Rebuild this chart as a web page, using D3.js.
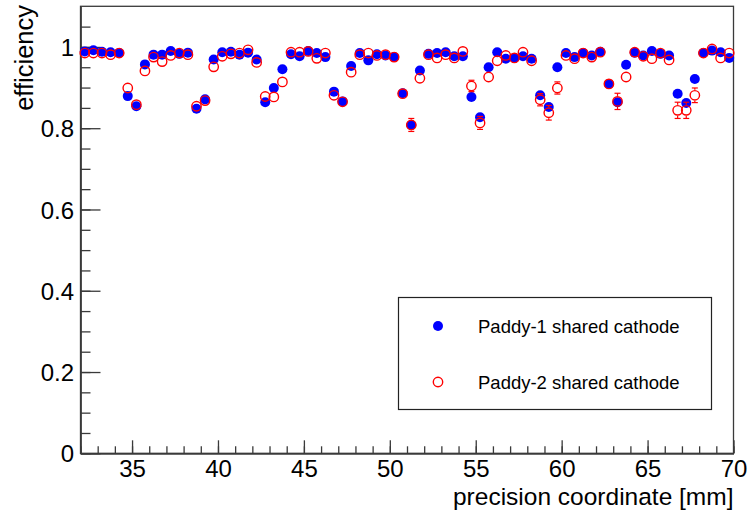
<!DOCTYPE html>
<html>
<head>
<meta charset="utf-8">
<script src="https://cdn.jsdelivr.net/npm/d3@7"></script>
<style>
  html, body { margin: 0; padding: 0; background: #fff; }
  svg { display: block; }
  text { font-family: "Liberation Sans", Arial, Helvetica, sans-serif; fill: #000; }
</style>
</head>
<body>
<svg id="chart" width="750" height="514"></svg>
<script>
// ---- data ----
const positions = [
  32.25, 32.75, 33.25, 33.75, 34.25, 34.75, 35.25, 35.75, 36.25, 36.75,
  37.25, 37.75, 38.25, 38.75, 39.25, 39.75, 40.25, 40.75, 41.25, 41.75,
  42.25, 42.75, 43.25, 43.75, 44.25, 44.75, 45.25, 45.75, 46.25, 46.75,
  47.25, 47.75, 48.25, 48.75, 49.25, 49.75, 50.25, 50.75, 51.25, 51.75,
  52.25, 52.75, 53.25, 53.75, 54.25, 54.75, 55.25, 55.75, 56.25, 56.75,
  57.25, 57.75, 58.25, 58.75, 59.25, 59.75, 60.25, 60.75, 61.25, 61.75,
  62.25, 62.75, 63.25, 63.75, 64.25, 64.75, 65.25, 65.75, 66.25, 66.75,
  67.25, 67.75, 68.25, 68.75, 69.25, 69.75
];
const paddy1 = [
  0.989, 0.992, 0.988, 0.987, 0.985, 0.879, 0.854, 0.957, 0.981, 0.981,
  0.990, 0.983, 0.986, 0.848, 0.871, 0.969, 0.987, 0.988, 0.981, 0.986,
  0.969, 0.864, 0.899, 0.945, 0.982, 0.977, 0.990, 0.985, 0.975, 0.890,
  0.866, 0.953, 0.985, 0.967, 0.982, 0.979, 0.975, 0.886, 0.808, 0.942,
  0.983, 0.985, 0.987, 0.977, 0.977, 0.877, 0.827, 0.950, 0.987, 0.971,
  0.973, 0.977, 0.971, 0.881, 0.852, 0.950, 0.985, 0.975, 0.985, 0.979,
  0.988, 0.909, 0.864, 0.956, 0.986, 0.979, 0.990, 0.983, 0.979, 0.885,
  0.862, 0.921, 0.985, 0.991, 0.987, 0.973
];
const paddy1Err = [
  0.005, 0.005, 0.005, 0.005, 0.005, 0.011, 0.012, 0.007, 0.005, 0.005,
  0.005, 0.005, 0.005, 0.012, 0.011, 0.006, 0.005, 0.005, 0.005, 0.005,
  0.006, 0.012, 0.010, 0.008, 0.005, 0.005, 0.005, 0.005, 0.005, 0.011,
  0.012, 0.007, 0.005, 0.006, 0.005, 0.005, 0.005, 0.011, 0.014, 0.008,
  0.005, 0.005, 0.005, 0.005, 0.005, 0.011, 0.013, 0.007, 0.005, 0.006,
  0.005, 0.005, 0.006, 0.011, 0.012, 0.007, 0.005, 0.005, 0.005, 0.005,
  0.005, 0.010, 0.012, 0.007, 0.005, 0.005, 0.005, 0.005, 0.005, 0.011,
  0.012, 0.009, 0.005, 0.005, 0.005, 0.006
];
const paddy2 = [
  0.985, 0.985, 0.985, 0.981, 0.985, 0.899, 0.858, 0.941, 0.975, 0.964,
  0.979, 0.985, 0.981, 0.854, 0.868, 0.951, 0.977, 0.983, 0.985, 0.993,
  0.962, 0.878, 0.877, 0.914, 0.987, 0.987, 0.989, 0.972, 0.985, 0.881,
  0.865, 0.938, 0.981, 0.985, 0.979, 0.981, 0.975, 0.885, 0.808, 0.923,
  0.981, 0.973, 0.981, 0.973, 0.989, 0.904, 0.813, 0.926, 0.966, 0.979,
  0.973, 0.987, 0.966, 0.870, 0.838, 0.899, 0.979, 0.971, 0.985, 0.975,
  0.987, 0.909, 0.866, 0.926, 0.987, 0.977, 0.971, 0.985, 0.968, 0.844,
  0.844, 0.881, 0.985, 0.995, 0.973, 0.985
];
const paddy2Err = [
  0.006, 0.006, 0.006, 0.006, 0.006, 0.012, 0.013, 0.009, 0.006, 0.007,
  0.006, 0.006, 0.006, 0.013, 0.012, 0.008, 0.006, 0.006, 0.006, 0.013,
  0.007, 0.013, 0.013, 0.010, 0.006, 0.006, 0.006, 0.007, 0.006, 0.012,
  0.013, 0.009, 0.006, 0.006, 0.006, 0.006, 0.006, 0.012, 0.016, 0.010,
  0.006, 0.007, 0.006, 0.007, 0.006, 0.014, 0.016, 0.010, 0.007, 0.006,
  0.007, 0.006, 0.007, 0.015, 0.018, 0.015, 0.006, 0.007, 0.006, 0.007,
  0.006, 0.013, 0.020, 0.010, 0.006, 0.006, 0.007, 0.006, 0.007, 0.020,
  0.020, 0.018, 0.006, 0.006, 0.007, 0.006
];
const xTicks = [35, 40, 45, 50, 55, 60, 65, 70];
const yTicks = [0, 0.2, 0.4, 0.6, 0.8, 1];
const seriesNames = ["Paddy-1 shared cathode", "Paddy-2 shared cathode"];
const xTitle = "precision coordinate [mm]";
const yTitle = "efficiency";

// ---- layout ----
const frame = { left: 80.5, right: 733.5, top: 6.3, bottom: 453.3 };
const svg = d3.select("#chart");
const x = d3.scaleLinear().domain([32, 70]).range([frame.left, frame.right]);
const y = d3.scaleLinear().domain([0, 1.1]).range([frame.bottom, frame.top]);

const blue = "#0000ff", red = "#ff0000";
const rBlue = 5, rRed = 4.7;
const axisColor = "#3a3a3a";
const fontFam = '"Liberation Sans", Arial, sans-serif';

// frame
svg.append("rect")
  .attr("x", frame.left).attr("y", frame.top)
  .attr("width", frame.right - frame.left).attr("height", frame.bottom - frame.top)
  .attr("fill", "#fff").attr("stroke", axisColor).attr("stroke-width", 1.3);

// x axis (major + minor ticks)
const xMinor = d3.range(32, 70.001, 1);
const xAxisMinor = d3.axisBottom(x).tickValues(xMinor).tickSizeInner(-7).tickSizeOuter(0).tickFormat("");
const xAxisMajor = d3.axisBottom(x).tickValues(xTicks).tickSizeInner(-13).tickSizeOuter(0).tickFormat(d3.format("d"));
const gxm = svg.append("g").attr("transform", `translate(0,${frame.bottom})`).call(xAxisMinor);
const gx = svg.append("g").attr("transform", `translate(0,${frame.bottom})`).call(xAxisMajor);
[gxm, gx].forEach(g => {
  g.select(".domain").attr("stroke", axisColor).attr("stroke-width", 1.3);
  g.selectAll(".tick line").attr("stroke", axisColor).attr("stroke-width", 1.3);
});
gx.selectAll(".tick text")
  .attr("y", 23.5).attr("dy", 0)
  .style("font-size", "24px").style("font-family", fontFam);

// y axis
const yMinor = d3.range(0, 1.0501, 0.05);
const yAxisMinor = d3.axisLeft(y).tickValues(yMinor).tickSizeInner(-10).tickSizeOuter(0).tickFormat("");
const yAxisMajor = d3.axisLeft(y).tickValues(yTicks).tickSizeInner(-20).tickSizeOuter(0)
  .tickFormat(d => d === 0 || d === 1 ? d3.format("d")(d) : d3.format(".1f")(d));
const gym = svg.append("g").attr("transform", `translate(${frame.left},0)`).call(yAxisMinor);
const gy = svg.append("g").attr("transform", `translate(${frame.left},0)`).call(yAxisMajor);
[gym, gy].forEach(g => {
  g.select(".domain").attr("stroke", axisColor).attr("stroke-width", 1.3);
  g.selectAll(".tick line").attr("stroke", axisColor).attr("stroke-width", 1.3);
});
gy.selectAll(".tick text")
  .attr("x", -6.5).attr("dy", "0.36em")
  .style("font-size", "24px").style("font-family", fontFam);

// titles
svg.append("text")
  .attr("x", frame.right).attr("y", 504.5)
  .attr("text-anchor", "end")
  .style("font-size", "24.5px")
  .text(xTitle);
svg.append("text")
  .attr("transform", `translate(33,5) rotate(-90)`)
  .attr("text-anchor", "end")
  .style("font-size", "25.5px")
  .text(yTitle);

// ---- data marks ----
function drawSeries(vals, errs, color, filled, r) {
  const pts = positions.map((p, i) => ({ x: p, v: vals[i], e: errs[i] }));
  const g = svg.append("g");
  const cap = 3;
  pts.forEach(d => {
    const cx = x(d.x), cy = y(d.v);
    const yTop = y(d.v + d.e), yBot = y(d.v - d.e);
    const gap = r + 0.8;
    if (cy - yTop > gap) {
      g.append("line").attr("x1", cx).attr("x2", cx).attr("y1", cy - gap).attr("y2", yTop)
        .attr("stroke", color).attr("stroke-width", 1.2);
      g.append("line").attr("x1", cx - cap).attr("x2", cx + cap).attr("y1", yTop).attr("y2", yTop)
        .attr("stroke", color).attr("stroke-width", 1.2);
    }
    if (yBot - cy > gap) {
      g.append("line").attr("x1", cx).attr("x2", cx).attr("y1", cy + gap).attr("y2", yBot)
        .attr("stroke", color).attr("stroke-width", 1.2);
      g.append("line").attr("x1", cx - cap).attr("x2", cx + cap).attr("y1", yBot).attr("y2", yBot)
        .attr("stroke", color).attr("stroke-width", 1.2);
    }
  });
  g.selectAll("circle").data(pts).join("circle")
    .attr("cx", d => x(d.x)).attr("cy", d => y(d.v)).attr("r", r)
    .attr("fill", filled ? color : "none")
    .attr("stroke", filled ? "none" : color)
    .attr("stroke-width", filled ? 0 : 1.4);
}
drawSeries(paddy1, paddy1Err, blue, true, rBlue);
drawSeries(paddy2, paddy2Err, red, false, rRed);

// ---- legend ----
const leg = svg.append("g");
leg.append("rect").attr("x", 398.5).attr("y", 297.5).attr("width", 313).attr("height", 112)
  .attr("fill", "#fff").attr("stroke", "#222").attr("stroke-width", 1.2);
const legRows = [
  { name: seriesNames[0], color: blue, filled: true, r: rBlue, cy: 326 },
  { name: seriesNames[1], color: red, filled: false, r: rRed, cy: 382 }
];
legRows.forEach(row => {
  leg.append("circle").attr("cx", 438).attr("cy", row.cy).attr("r", row.r)
    .attr("fill", row.filled ? row.color : "none")
    .attr("stroke", row.filled ? "none" : row.color).attr("stroke-width", 1.4);
  leg.append("text").attr("x", 478).attr("y", row.cy + 6.5)
    .style("font-size", "18.5px").text(row.name);
});
</script>
</body>
</html>
